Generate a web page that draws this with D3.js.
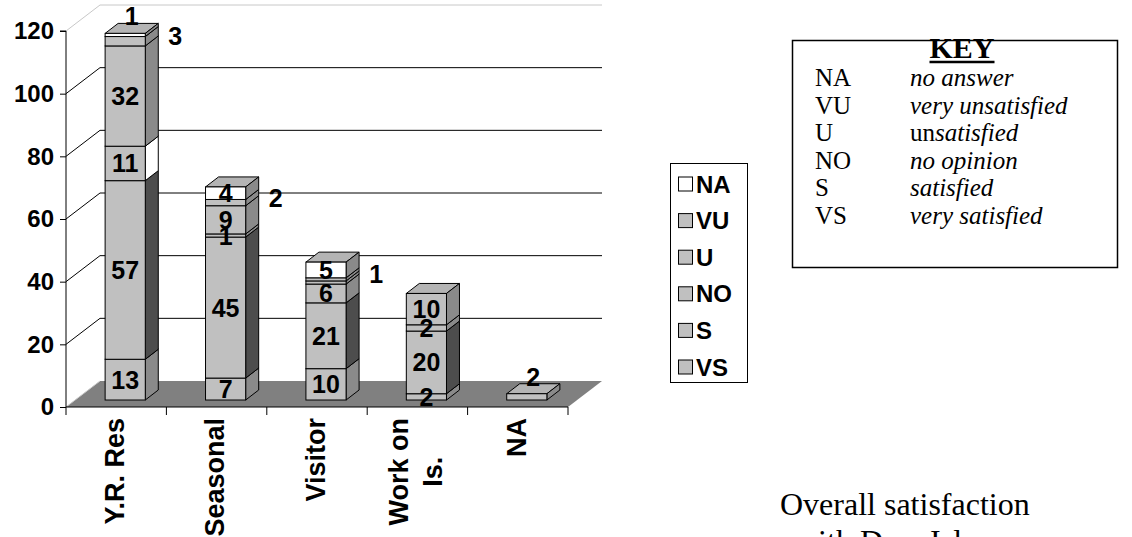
<!DOCTYPE html>
<html>
<head>
<meta charset="utf-8">
<script src="https://cdn.jsdelivr.net/npm/d3@7"></script>
<style>
  html, body { margin: 0; padding: 0; background: #ffffff; }
  svg { display: block; }
</style>
</head>
<body>
<svg id="chart" width="1132" height="537"></svg>
<script>
// Respondent groups along the category axis
const categories = ["Y.R. Res", "Seasonal", "Visitor", "Work on\nIs.", "NA"];

// Satisfaction counts per group, stacked bottom to top
const seriesNames = ["VS", "S", "NO", "U", "VU", "NA"];
const vsValues = [13, 7, 10, 2, 2];
const sValues  = [57, 45, 21, 20, 0];
const noValues = [11, 1, 6, 2, 0];
const uValues  = [32, 9, 1, 10, 0];
const vuValues = [3, 2, 1, 0, 0];
const naValues = [1, 4, 5, 0, 0];

// Value axis ticks
const yTicks = [0, 20, 40, 60, 80, 100, 120];

// Legend entries (top to bottom) and the key table
const legendOrder = ["NA", "VU", "U", "NO", "S", "VS"];
const keyCodes = ["NA", "VU", "U", "NO", "S", "VS"];
const keyMeanings = [
  [["no answer", true]],
  [["very unsatisfied", true]],
  [["un", false], ["satisfied", true]],
  [["no opinion", true]],
  [["satisfied", true]],
  [["very satisfied", true]]
];

const seriesValues = { VS: vsValues, S: sValues, NO: noValues, U: uValues, VU: vuValues, NA: naValues };

// Face shading per series: front / right side / top
const faceColors = {
  VS: { front: "#c0c0c0", side: "#8a8a8a", top: "#b4b4b4" },
  S:  { front: "#c0c0c0", side: "#4d4d4d", top: "#b4b4b4" },
  NO: { front: "#c0c0c0", side: "#8a8a8a", top: "#b4b4b4" },
  U:  { front: "#c0c0c0", side: "#8a8a8a", top: "#b4b4b4" },
  VU: { front: "#c0c0c0", side: "#8a8a8a", top: "#b4b4b4" },
  NA: { front: "#ffffff", side: "#8a8a8a", top: "#b4b4b4" }
};
// One side face of the stack rendered unshaded
const sideOverrides = { "Y.R. Res|NO": "#ffffff" };
// Labels that are swallowed by neighbouring ones
const hiddenLabels = ["Visitor|U"];

const svg = d3.select("#chart");
const boldSans = "'Liberation Sans', Arial, Helvetica, sans-serif";
const serif = "'Liberation Serif', 'Times New Roman', Times, serif";

// Plot geometry
const x = d3.scaleBand().domain(categories).range([66, 568]).padding(0);
const y = d3.scaleLinear().domain([0, 120]).range([407, 31]);
const wall = { dx: 34, dy: -26 };      // depth of floor / walls
const barShift = { dx: 9, dy: -7 };    // front plane of the bars
const barDepth = { dx: 13, dy: -10 };  // thickness of the bars
const barWidth = x.bandwidth() * 0.4;

const plot = svg.append("g");

// Floor
plot.append("polygon")
  .attr("points", [
    [x.range()[0], y(0)], [x.range()[0] + wall.dx, y(0) + wall.dy],
    [x.range()[1] + wall.dx, y(0) + wall.dy], [x.range()[1], y(0)]
  ].map(p => p.join(",")).join(" "))
  .attr("fill", "#808080");
plot.append("line")
  .attr("x1", x.range()[0]).attr("y1", y(0))
  .attr("x2", x.range()[0] + wall.dx).attr("y2", y(0) + wall.dy)
  .attr("stroke", "#c8c8c8").attr("stroke-width", 1);

// Gridlines on the side and back walls
yTicks.filter(t => t > 0).forEach(t => {
  const col = t === 120 ? "#c8c8c8" : "#000000";
  plot.append("line")
    .attr("x1", x.range()[0]).attr("y1", y(t))
    .attr("x2", x.range()[0] + wall.dx).attr("y2", y(t) + wall.dy)
    .attr("stroke", col).attr("stroke-width", 1);
  plot.append("line")
    .attr("x1", x.range()[0] + wall.dx).attr("y1", y(t) + wall.dy)
    .attr("x2", x.range()[1] + wall.dx).attr("y2", y(t) + wall.dy)
    .attr("stroke", col).attr("stroke-width", 1);
});

// Value axis
const yAxis = d3.axisLeft(y).tickValues(yTicks).tickSize(6).tickPadding(6).tickFormat(d3.format("d"));
const yAxisG = svg.append("g").attr("transform", `translate(${x.range()[0]},0)`).call(yAxis);
yAxisG.select(".domain").attr("stroke", "#000").attr("d", `M-6,${y(120)}H0V${y(0)}`);
yAxisG.selectAll(".tick line").attr("stroke", "#000");
yAxisG.selectAll(".tick text")
  .attr("font-family", boldSans).attr("font-weight", "bold").attr("font-size", 24).attr("fill", "#000");

// Category axis
const xAxis = d3.axisBottom(x).tickSize(0).tickFormat("");
const xAxisG = svg.append("g").attr("transform", `translate(0,${y(0)})`).call(xAxis);
xAxisG.select(".domain").attr("stroke", "#000").attr("d", `M${x.range()[0]},0H${x.range()[1]}`);
const bounds = categories.map(c => x(c)).concat([x.range()[1]]);
xAxisG.selectAll(".bound").data(bounds).join("line")
  .attr("class", "bound")
  .attr("x1", d => d).attr("x2", d => d).attr("y1", 0).attr("y2", 8)
  .attr("stroke", "#000");

// Rotated category names
const catG = svg.append("g");
categories.forEach(c => {
  const lines = c.split("\n");
  const g = catG.append("g");
  const cx = x(c) + x.bandwidth() / 2 - 2;
  const texts = lines.map((ln, i) => g.append("text")
    .attr("font-family", boldSans).attr("font-weight", "bold").attr("font-size", 27)
    .attr("text-anchor", "middle").attr("dy", "0.36em").text(ln));
  const maxLen = d3.max(texts, t => t.node().getComputedTextLength());
  const centreY = 418 + maxLen / 2;
  const lineGap = 34;
  texts.forEach((t, i) => {
    const lx = cx + (i - (lines.length - 1) / 2) * lineGap;
    t.attr("transform", `translate(${lx},${centreY}) rotate(-90)`);
  });
});

// Stacked 3-D bars
const stack = d3.stack().keys(seriesNames)(
  categories.map((c, i) => {
    const row = { category: c };
    seriesNames.forEach(s => row[s] = seriesValues[s][i]);
    return row;
  })
);

const barsG = svg.append("g");
const labelsG = svg.append("g");
const pts = arr => arr.map(p => p.join(",")).join(" ");

categories.forEach((c, ci) => {
  const x0 = x(c) + x.bandwidth() / 2 + barShift.dx - barWidth / 2;
  const x1 = x0 + barWidth;
  const total = d3.sum(seriesNames, s => seriesValues[s][ci]);
  stack.forEach(layer => {
    const s = layer.key;
    const [v0, v1] = layer[ci];
    if (v1 - v0 <= 0) return;
    const yb = y(v0) + barShift.dy;
    const yt = y(v1) + barShift.dy;
    const col = faceColors[s];
    const g = barsG.append("g");
    g.append("polygon")
      .attr("points", pts([[x0, yt], [x0 + barDepth.dx, yt + barDepth.dy], [x1 + barDepth.dx, yt + barDepth.dy], [x1, yt]]))
      .attr("fill", col.top).attr("stroke", "#000").attr("stroke-width", 1).attr("stroke-linejoin", "round");
    g.append("polygon")
      .attr("points", pts([[x1, yb], [x1 + barDepth.dx, yb + barDepth.dy], [x1 + barDepth.dx, yt + barDepth.dy], [x1, yt]]))
      .attr("fill", sideOverrides[c + "|" + s] || col.side).attr("stroke", "#000").attr("stroke-width", 1).attr("stroke-linejoin", "round");
    g.append("rect")
      .attr("x", x0).attr("y", yt).attr("width", barWidth).attr("height", yb - yt)
      .attr("fill", col.front).attr("stroke", "#000").attr("stroke-width", 1);

    // value label
    if (hiddenLabels.includes(c + "|" + s)) return;
    const v = v1 - v0;
    let lx = (x0 + x1) / 2, ly = (yb + yt) / 2;
    if (s === "VU") {
      lx = x1 + 30; ly = (yb + yt) / 2 - 5;
    } else if (v1 === total && v <= 2) {
      lx = (x0 + x1) / 2 + barDepth.dx / 2;
      ly = yt + barDepth.dy / 2 - 12;
    }
    labelsG.append("text")
      .attr("x", lx).attr("y", ly).attr("dy", "0.36em")
      .attr("text-anchor", "middle")
      .attr("font-family", boldSans).attr("font-weight", "bold").attr("font-size", 25)
      .attr("fill", "#000").text(v);
  });
});

// Series legend
const legG = svg.append("g");
legG.append("rect").attr("x", 670.5).attr("y", 163.5).attr("width", 77).attr("height", 219)
  .attr("fill", "#fff").attr("stroke", "#000").attr("stroke-width", 1);
legendOrder.forEach((s, i) => {
  const cy = 184 + i * 36.6;
  legG.append("rect").attr("x", 678.5).attr("y", cy - 7).attr("width", 14).attr("height", 14)
    .attr("fill", faceColors[s].front).attr("stroke", "#000").attr("stroke-width", 1);
  legG.append("text").attr("x", 696).attr("y", cy).attr("dy", "0.36em")
    .attr("font-family", boldSans).attr("font-weight", "bold").attr("font-size", 24)
    .attr("fill", "#000").text(s);
});

// Abbreviation key
const keyG = svg.append("g");
keyG.append("rect").attr("x", 792.5).attr("y", 40.5).attr("width", 325).attr("height", 227)
  .attr("fill", "#fff").attr("stroke", "#000").attr("stroke-width", 1.5);
const keyTitle = keyG.append("text").attr("x", 962).attr("y", 58).attr("text-anchor", "middle")
  .attr("font-family", serif).attr("font-weight", "bold").attr("font-size", 30).text("KEY");
const tw = keyTitle.node().getComputedTextLength();
keyG.append("line").attr("x1", 962 - tw / 2).attr("x2", 962 + tw / 2).attr("y1", 62).attr("y2", 62)
  .attr("stroke", "#000").attr("stroke-width", 2.5);
keyCodes.forEach((k, i) => {
  const by = 86 + i * 27.5;
  keyG.append("text").attr("x", 815).attr("y", by)
    .attr("font-family", serif).attr("font-size", 25).text(k);
  const t = keyG.append("text").attr("x", 910).attr("y", by)
    .attr("font-family", serif).attr("font-size", 25);
  keyMeanings[i].forEach(([txt, it]) => {
    t.append("tspan").attr("font-style", it ? "italic" : "normal").text(txt);
  });
});

// Caption
const cap = svg.append("text").attr("x", 780).attr("y", 515)
  .attr("font-family", serif).attr("font-size", 32).attr("fill", "#000");
cap.append("tspan").attr("x", 780).text("Overall satisfaction");
cap.append("tspan").attr("x", 795).attr("dy", 37).text("with Deer Isle");
</script>
</body>
</html>
